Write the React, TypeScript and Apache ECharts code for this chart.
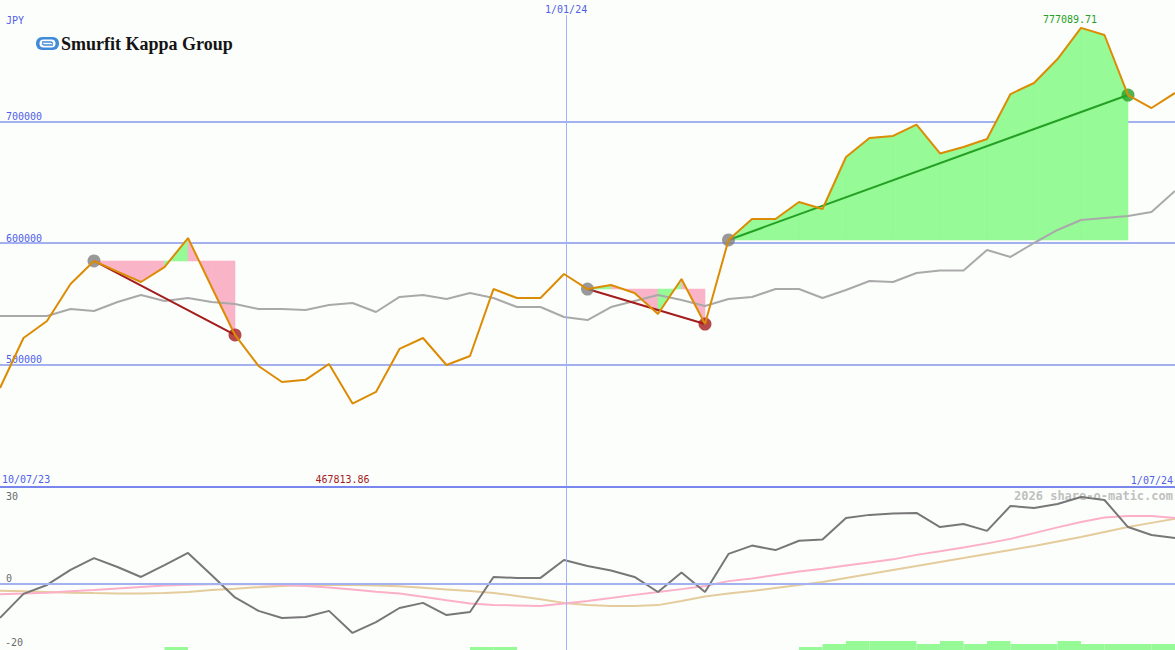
import React, { useEffect, useRef } from "react";
import * as echarts from "echarts";

// ---- labels ----
const CURRENCY = "JPY";
const COMPANY = "Smurfit Kappa Group";
const START_LABEL = "10/07/23";
const MID_LABEL = "1/01/24";
const END_LABEL = "1/07/24";
const WATERMARK = "2026 share-o-matic.com";
const MID_X = 24.09; // position of 1/01/24 on the weekly index scale

// ---- weekly closing prices (JPY) ----
const PRICE = [
  480700, 521800, 535800, 566300, 585200, 576500, 567900, 580200, 604100, 564000,
  524300, 498800, 485600, 487400, 500400, 467813.86, 477400, 512800, 521800, 499600,
  507000, 562100, 554700, 554700, 574500, 562100, 565400, 558800, 541600, 570400,
  533300, 602500, 619800, 619800, 633700, 628000, 670800, 686400, 688100, 697500,
  673700, 679000, 685600, 722600, 731700, 751400, 777089.71, 771200, 721800, 711100,
  723500,
];

// ---- moving average (grey line, top panel) ----
const MA = [
  539900, 539900, 539900, 545700, 544000, 551400, 557200, 552300, 554700, 551400,
  549800, 545700, 545700, 544900, 549000, 550600, 543200, 555600, 557200, 553900,
  558800, 554700, 547300, 547300, 539100, 536600, 547300, 552300, 557200, 553100,
  548100, 553900, 555600, 562100, 562100, 554700, 561300, 568700, 567900, 575300,
  577400, 577400, 594200, 588500, 600000, 610700, 618900, 620600, 622200, 625500,
  642800,
];

// ---- lower panel indicators ----
const MOMENTUM = [
  -10.6, -3.1, -0.3, 4.4, 8.1, 5.3, 2.2, 5.9, 9.7, 2.8,
  -4.2, -8.4, -10.6, -10.3, -8.4, -15.3, -11.9, -7.5, -5.9, -9.7,
  -8.75, 2.2, 1.9, 1.9, 7.5, 5.6, 4.2, 2.2, -2.5, 3.6,
  -2.5, 9.4, 12.0, 10.6, 13.5, 13.9, 20.6, 21.6, 22.0, 22.2,
  17.8, 18.75, 16.6, 24.4, 23.75, 25.0, 27.2, 26.25, 17.8, 15.3,
  14.4,
];
const SIGNAL_FAST = [
  -3.2, -3.0, -2.7, -2.3, -1.9, -1.4, -0.9, -0.5, -0.2, -0.1,
  -0.1, -0.1, -0.3, -0.6, -1.1, -1.7, -2.4, -3.0, -4.0, -5.1,
  -6.1, -6.6, -6.7, -6.9, -6.1, -5.3, -4.4, -3.4, -2.5, -1.6,
  -0.6, 0.9, 1.7, 2.8, 3.9, 4.8, 5.8, 6.7, 7.7, 9.1,
  10.2, 11.4, 12.7, 14.1, 15.9, 17.7, 19.4, 20.8, 21.25, 21.25,
  20.6,
];
const SIGNAL_SLOW = [
  -2.1, -2.3, -2.5, -2.7, -2.85, -2.95, -2.95, -2.8, -2.5, -1.9,
  -1.5, -1.0, -0.6, -0.3, -0.3, -0.3, -0.5, -0.7, -1.2, -1.7,
  -2.2, -2.8, -3.75, -4.8, -5.9, -6.6, -6.9, -6.9, -6.6, -5.3,
  -3.9, -3.0, -2.2, -1.25, -0.3, 0.6, 1.9, 3.1, 4.4, 5.6,
  6.9, 8.1, 9.4, 10.6, 11.9, 13.3, 14.7, 16.25, 17.8, 19.1,
  20.4,
];
const HIST = [
  0, 0, 0, 0, 0, 0, 0, 1, 0, 0,
  0, 0, 0, 0, 0, 0, 0, 0, 0, 0,
  1, 1, 0, 0, 0, 0, 0, 0, 0, 0,
  0, 0, 0, 0, 1, 2, 3, 3, 3, 2,
  3, 2, 3, 2, 2, 3, 2, 2, 2, 2,
  0,
];

// ---- trend segments (start index, end index) ----
const TRENDS = [
  { from: 4, to: 10 },
  { from: 25, to: 30 },
  { from: 31, to: 48 },
];

const BLUE_TEXT = "#4f5fe6";
const GRID_BLUE = "#a3b1f0";
const SEP_BLUE = "#7886ee";
const ORANGE = "#dc8c04";
const GREEN_FILL = "#96fa96";
const PINK_FILL = "#fab4c8";
const RED = "#a41c1c";
const GREEN = "#24a024";
const MONO = '"DejaVu Sans Mono", monospace';

export default function App() {
  const ref = useRef<HTMLDivElement>(null);

  useEffect(() => {
    const el = ref.current;
    if (!el) return;
    const chart = echarts.init(el, null, { renderer: "svg" });

    const pricePts = PRICE.map((v, i) => [i, v]);
    const maPts = MA.map((v, i) => [i, v]);
    const momPts = MOMENTUM.map((v, i) => [i, v]);
    const fastPts = SIGNAL_FAST.map((v, i) => [i, v]);
    const slowPts = SIGNAL_SLOW.map((v, i) => [i, v]);
    const histPts = HIST.map((v, i) => [i, v]);

    const fills: number[][] = [];
    TRENDS.forEach((t) => {
      const level = PRICE[t.from];
      for (let i = t.from; i < t.to; i++) {
        fills.push([i, level, PRICE[i], PRICE[i + 1], PRICE[i + 1] > level ? 1 : 0]);
      }
    });

    let maxI = 0;
    let minI = 0;
    PRICE.forEach((v, i) => {
      if (v > PRICE[maxI]) maxI = i;
      if (v < PRICE[minI]) minI = i;
    });

    const Y_MIN = 400000;
    const Y_MAX = 800000;

    const trendLines = TRENDS.map((t) => {
      const up = PRICE[t.to] > PRICE[t.from];
      return {
        type: "line",
        xAxisIndex: 0,
        yAxisIndex: 0,
        z: 3,
        symbol: "none",
        silent: true,
        lineStyle: { color: up ? GREEN : RED, width: 2 },
        data: [
          [t.from, PRICE[t.from]],
          [t.to, PRICE[t.to]],
        ],
      };
    });

    const dots: any[] = [];
    TRENDS.forEach((t) => {
      const up = PRICE[t.to] > PRICE[t.from];
      dots.push({ value: [t.from, PRICE[t.from]], itemStyle: { color: "#808080" } });
      dots.push({ value: [t.to, PRICE[t.to]], itemStyle: { color: up ? GREEN : RED } });
    });

    const option: any = {
      animation: false,
      backgroundColor: "#fcfefc",
      grid: [
        { left: 0, right: 0, top: 0, height: 486 },
        { left: 0, right: 0, top: 488, height: 162 },
      ],
      xAxis: [
        { type: "value", gridIndex: 0, min: 0, max: 50, show: false },
        { type: "value", gridIndex: 1, min: 0, max: 50, show: false },
      ],
      yAxis: [
        {
          type: "value",
          gridIndex: 0,
          min: Y_MIN,
          max: Y_MAX,
          interval: 100000,
          axisLine: { show: false },
          axisTick: { show: false },
          axisLabel: {
            inside: true,
            margin: 6,
            showMinLabel: false,
            showMaxLabel: false,
            color: BLUE_TEXT,
            fontFamily: MONO,
            fontSize: 10,
            verticalAlign: "bottom",
            formatter: (v: number) => String(v),
          },
          splitLine: {
            show: true,
            showMinLine: false,
            showMaxLine: false,
            lineStyle: { color: GRID_BLUE, width: 2 },
          },
        },
        {
          type: "value",
          gridIndex: 1,
          min: -20.625,
          max: 30,
          axisLine: { show: false },
          axisTick: { show: false },
          axisLabel: { show: false },
          splitLine: { show: false },
        },
        { type: "value", gridIndex: 1, min: 0, max: 54, show: false },
      ],
      series: [
        {
          type: "custom",
          xAxisIndex: 0,
          yAxisIndex: 0,
          z: 1,
          silent: true,
          encode: { x: 0, y: 1 },
          data: fills,
          renderItem: (_p: any, api: any) => {
            const i = api.value(0);
            const L = api.value(1);
            const col = api.value(4) ? GREEN_FILL : PINK_FILL;
            return {
              type: "polygon",
              shape: {
                points: [
                  api.coord([i, L]),
                  api.coord([i, api.value(2)]),
                  api.coord([i + 1, api.value(3)]),
                  api.coord([i + 1, L]),
                ],
              },
              style: { fill: col, stroke: col, lineWidth: 0.6 },
            };
          },
        },
        {
          type: "line",
          xAxisIndex: 0,
          yAxisIndex: 0,
          z: 2,
          symbol: "none",
          silent: true,
          lineStyle: { color: "#a9a9a9", width: 2 },
          data: maPts,
          markLine: {
            silent: true,
            symbol: "none",
            lineStyle: { color: GRID_BLUE, width: 1, type: "solid" },
            label: {
              show: true,
              position: "start",
              distance: 1,
              formatter: MID_LABEL,
              color: BLUE_TEXT,
              fontFamily: MONO,
              fontSize: 10,
            },
            data: [
              [
                { coord: [MID_X, 787500] },
                { coord: [MID_X, Y_MIN] },
              ],
            ],
          },
        },
        ...trendLines,
        {
          type: "scatter",
          xAxisIndex: 0,
          yAxisIndex: 0,
          z: 4,
          symbolSize: 13,
          silent: true,
          data: dots,
        },
        {
          type: "line",
          xAxisIndex: 0,
          yAxisIndex: 0,
          z: 5,
          symbol: "none",
          silent: true,
          lineStyle: { color: ORANGE, width: 2 },
          data: pricePts,
          markPoint: {
            symbol: "circle",
            symbolSize: 0,
            silent: true,
            data: [
              {
                coord: [maxI, PRICE[maxI]],
                label: {
                  show: true,
                  position: "inside",
                  offset: [-11, -8],
                  formatter: PRICE[maxI].toFixed(2),
                  color: GREEN,
                  fontFamily: MONO,
                  fontSize: 10,
                },
              },
              {
                coord: [minI, Y_MIN],
                label: {
                  show: true,
                  position: "inside",
                  offset: [-10, -7],
                  formatter: PRICE[minI].toFixed(2),
                  color: RED,
                  fontFamily: MONO,
                  fontSize: 10,
                },
              },
            ],
          },
        },
        // lower panel
        {
          type: "custom",
          xAxisIndex: 1,
          yAxisIndex: 2,
          z: 1,
          silent: true,
          encode: { x: 0, y: 1 },
          data: histPts,
          renderItem: (_p: any, api: any) => {
            const i = api.value(0);
            const v = api.value(1);
            if (!v) return null;
            const a = api.coord([i, v]);
            const b = api.coord([i + 1, 0]);
            return {
              type: "rect",
              shape: { x: a[0], y: a[1], width: b[0] - a[0], height: b[1] - a[1] },
              style: { fill: GREEN_FILL },
            };
          },
          markLine: {
            silent: true,
            symbol: "none",
            label: { show: false },
            lineStyle: { color: GRID_BLUE, width: 1, type: "solid" },
            data: [{ xAxis: MID_X }],
          },
        },
        {
          type: "line",
          xAxisIndex: 1,
          yAxisIndex: 1,
          z: 2,
          symbol: "none",
          silent: true,
          lineStyle: { color: "#e4cc9c", width: 2 },
          data: slowPts,
          markLine: {
            silent: true,
            symbol: "none",
            label: { show: false },
            lineStyle: { color: GRID_BLUE, width: 2, type: "solid" },
            data: [{ yAxis: 0 }],
          },
        },
        {
          type: "line",
          xAxisIndex: 1,
          yAxisIndex: 1,
          z: 3,
          symbol: "none",
          silent: true,
          lineStyle: { color: "#fcb0c8", width: 2 },
          data: fastPts,
        },
        {
          type: "line",
          xAxisIndex: 1,
          yAxisIndex: 1,
          z: 4,
          symbol: "none",
          silent: true,
          lineStyle: { color: "#777777", width: 2 },
          data: momPts,
        },
      ],
      graphic: {
        elements: [
          {
            type: "line",
            z: 50,
            silent: true,
            shape: { x1: 0, y1: 487, x2: 1175, y2: 487 },
            style: { stroke: SEP_BLUE, lineWidth: 2 },
          },
          {
            type: "text",
            z: 50,
            x: 6,
            y: 20,
            style: { text: CURRENCY, fill: BLUE_TEXT, font: `10px ${MONO}`, align: "left", verticalAlign: "middle" },
          },
          {
            type: "text",
            z: 50,
            x: 2,
            y: 479,
            style: { text: START_LABEL, fill: BLUE_TEXT, font: `10px ${MONO}`, align: "left", verticalAlign: "middle" },
          },
          {
            type: "text",
            z: 50,
            x: 1173,
            y: 480,
            style: { text: END_LABEL, fill: BLUE_TEXT, font: `10px ${MONO}`, align: "right", verticalAlign: "middle" },
          },
          {
            type: "text",
            z: 0,
            x: 1173,
            y: 496,
            style: { text: WATERMARK, fill: "#c0c0c0", font: `bold 12px ${MONO}`, align: "right", verticalAlign: "middle" },
          },
          {
            type: "text",
            z: 50,
            x: 6,
            y: 496,
            style: { text: "30", fill: "#6a6a6a", font: `10px ${MONO}`, align: "left", verticalAlign: "middle" },
          },
          {
            type: "text",
            z: 50,
            x: 6,
            y: 578,
            style: { text: "0", fill: "#6a6a6a", font: `10px ${MONO}`, align: "left", verticalAlign: "middle" },
          },
          {
            type: "text",
            z: 50,
            x: 5,
            y: 642,
            style: { text: "-20", fill: "#6a6a6a", font: `10px ${MONO}`, align: "left", verticalAlign: "middle" },
          },
          // logo
          {
            type: "rect",
            z: 50,
            shape: { x: 36, y: 37, width: 23, height: 13, r: 6 },
            style: { fill: "#3f8ad9" },
          },
          {
            type: "rect",
            z: 51,
            shape: { x: 39.5, y: 39.5, width: 16, height: 8, r: 4 },
            style: { fill: "#ffffff" },
          },
          {
            type: "polyline",
            z: 52,
            shape: { points: [[42, 42], [51, 42], [53, 43.5]] },
            style: { stroke: "#3f8ad9", lineWidth: 1.5, fill: "none" },
          },
          {
            type: "polyline",
            z: 52,
            shape: { points: [[53, 45], [44, 45], [42, 43.5]] },
            style: { stroke: "#3f8ad9", lineWidth: 1.5, fill: "none" },
          },
          {
            type: "text",
            z: 50,
            x: 61,
            y: 44,
            style: {
              text: COMPANY,
              fill: "#141414",
              font: 'bold 18px "Liberation Serif", serif',
              align: "left",
              verticalAlign: "middle",
            },
          },
        ],
      },
    };

    chart.setOption(option);
    return () => chart.dispose();
  }, []);

  return (
    <div
      ref={ref}
      style={{ position: "fixed", left: 0, top: 0, width: 1175, height: 650, background: "#fcfefc" }}
    />
  );
}
